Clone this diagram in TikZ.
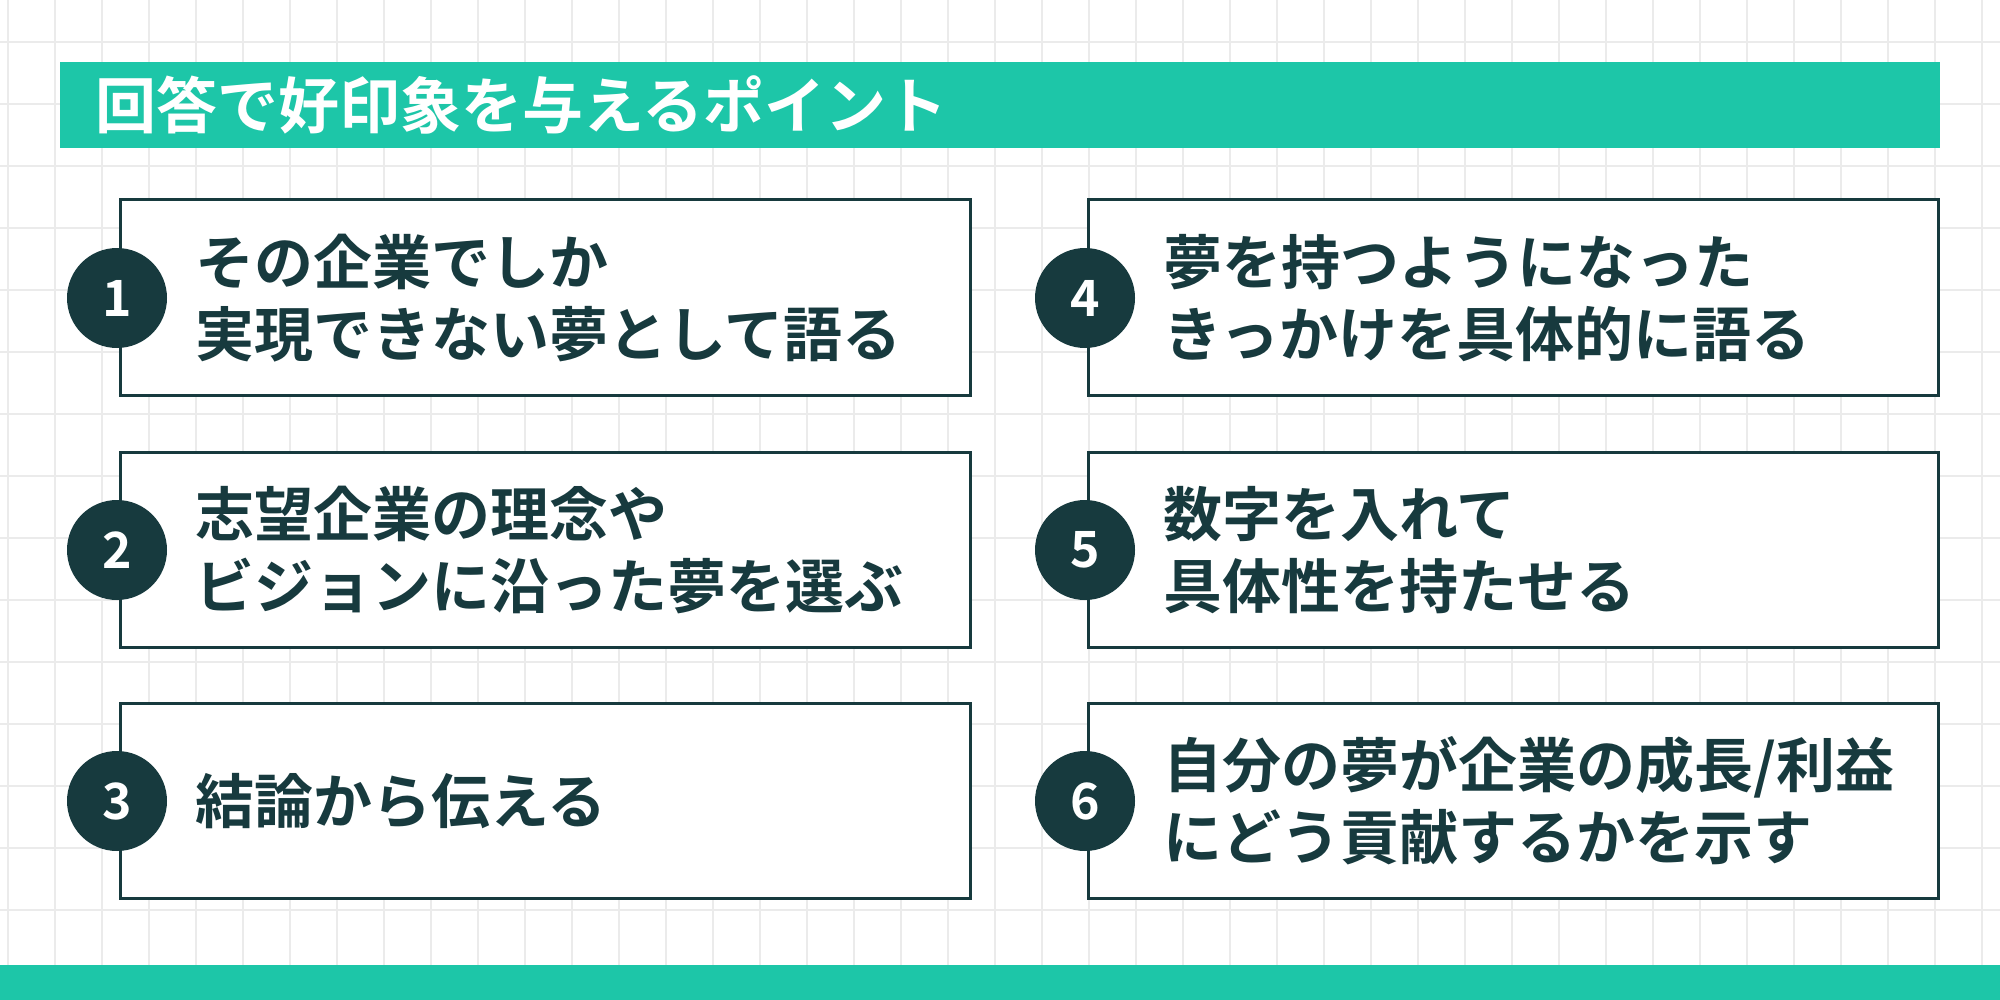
\documentclass[tikz,border=0pt]{standalone}
\usepackage{fontspec}
\setmainfont{Noto Sans CJK JP}[BoldFont=* Bold]
\definecolor{teal}{HTML}{1DC6A8}
\definecolor{dark}{HTML}{173A3E}
\definecolor{gridc}{HTML}{EBEBEB}
\begin{document}
\begin{tikzpicture}[x=0.5pt,y=-0.5pt,
  card/.style={draw=dark,line width=1.5pt,fill=white},
  num/.style={circle,fill=dark,minimum size=50pt,inner sep=0,text=white,font=\fontsize{25}{25}\selectfont\bfseries},
  txt/.style={anchor=west,align=left,text=dark,font=\fontsize{29.5}{36}\selectfont\bfseries,inner sep=0}]
\useasboundingbox (0,0) rectangle (2000,1000);
\fill[white] (0,0) rectangle (2000,1000);
\foreach \x in {8,55,...,2000} \draw[gridc,line width=0.8pt] (\x,0) -- (\x,1000);
\foreach \y in {42,104,...,1000} \draw[gridc,line width=0.8pt] (0,\y) -- (2000,\y);
\fill[teal] (60,62) rectangle (1940,148);
\node[anchor=west,text=white,font=\fontsize{30.5}{30}\selectfont\bfseries,inner sep=0] (title) at (95,105) {回答で好印象を与えるポイント};
\fill[teal] (0,965) rectangle (2000,1000);
\foreach \i/\x/\y/\t in {
 1/120/200/{その企業でしか\\実現できない夢として語る},
 2/120/452/{志望企業の理念や\\ビジョンに沿った夢を選ぶ},
 3/120/703/{結論から伝える},
 4/1088/200/{夢を持つようになった\\きっかけを具体的に語る},
 5/1088/452/{数字を入れて\\具体性を持たせる},
 6/1088/703/{自分の夢が企業の成長/利益\\にどう貢献するかを示す}} {
  \draw[card] (\x,\y) rectangle ++(850,195);
  \node[num] (n\i) at (\x-3,\y+98) {\i};
  \node[txt] (t\i) at (\x+75,\y+98) {\t};
}
\end{tikzpicture}
\end{document}
